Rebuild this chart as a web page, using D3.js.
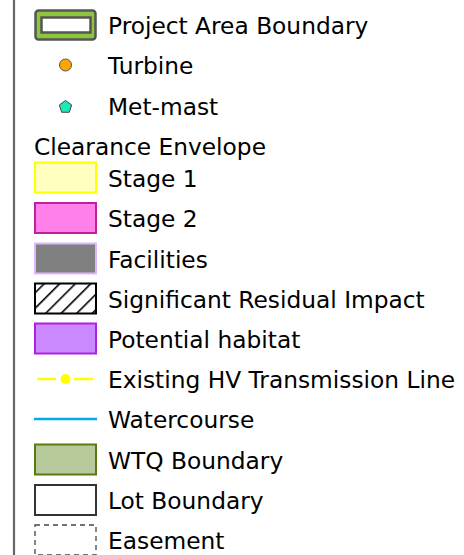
<!DOCTYPE html>
<html><head><meta charset="utf-8">
<script src="https://cdn.jsdelivr.net/npm/d3@7"></script>
<style>html,body{margin:0;padding:0;background:#fff;}</style>
</head><body>
<script>
const labels = ["Project Area Boundary","Turbine","Met-mast","Clearance Envelope","Stage 1","Stage 2","Facilities","Significant Residual Impact","Potential habitat","Existing HV Transmission Line","Watercourse","WTQ Boundary","Lot Boundary","Easement"];
const kinds  = ["project","circle","pentagon","heading","rect","rect","rect","hatch","rect","hvline","line","rect","rect","dashed"];
const fills  = ["#8cc63f","#ffa500","#1de9b6",null,"#ffffc0","#ff80e8","#808080","#ffffff","#cc88ff","#ffff00","#00aaee","#b5c99a","#ffffff","none"];
const strokes= ["#555555","#555555","#444444",null,"#ffff00","#c0209a","#e0b4ff","#000000","#b020e0","#ffff00","#00aaee","#5a7a10","#333333","#444444"];
const centers= [25,65,106,146,177.5,218,258.5,298.5,338.5,379,419,459.5,500,540];

const W=464,H=555;
const svg=d3.select("body").append("svg").attr("width",W).attr("height",H);
const defs=svg.append("defs");
const pat=defs.append("pattern").attr("id","hatch").attr("patternUnits","userSpaceOnUse")
  .attr("width",11).attr("height",11).attr("patternTransform","rotate(45)");
pat.append("rect").attr("width",11).attr("height",11).attr("fill","#fff");
pat.append("line").attr("x1",0).attr("y1",0).attr("x2",0).attr("y2",11).attr("stroke","#000").attr("stroke-width",3.2);

svg.append("line").attr("x1",14).attr("x2",14).attr("y1",0).attr("y2",H).attr("stroke","#666").attr("stroke-width",2.2);

const x0=34,x1=97,sw=x1-x0;
const rows=d3.range(labels.length);
const g=svg.selectAll("g.row").data(rows).join("g").attr("class","row");
g.each(function(i){
  const s=d3.select(this), cy=centers[i], k=kinds[i];
  if(k==="project"){
    s.append("rect").attr("x",x0+1.5).attr("y",cy-14.5).attr("width",sw-3).attr("height",29).attr("rx",3)
      .attr("fill",fills[i]).attr("stroke",strokes[i]).attr("stroke-width",2.5);
    s.append("rect").attr("x",41.5).attr("y",cy-7.5).attr("width",49).attr("height",15)
      .attr("fill","#fff").attr("stroke",strokes[i]).attr("stroke-width",2.5);
  } else if(k==="circle"){
    s.append("circle").attr("cx",65.5).attr("cy",cy).attr("r",6).attr("fill",fills[i]).attr("stroke",strokes[i]).attr("stroke-width",1);
  } else if(k==="pentagon"){
    const r=6.5;
    const pts=d3.range(5).map(j=>{const a=-Math.PI/2+j*2*Math.PI/5;return [65.5+r*Math.cos(a),cy+1+r*Math.sin(a)];});
    s.append("polygon").attr("points",pts.map(p=>p.join(",")).join(" ")).attr("fill",fills[i]).attr("stroke",strokes[i]).attr("stroke-width",1);
  } else if(k==="rect"||k==="hatch"){
    s.append("rect").attr("x",x0+1).attr("y",cy-15).attr("width",sw-2).attr("height",30)
      .attr("fill",k==="hatch"?"url(#hatch)":fills[i]).attr("stroke",strokes[i]).attr("stroke-width",2);
  } else if(k==="dashed"){
    s.append("rect").attr("x",x0+1).attr("y",cy-15).attr("width",sw-2).attr("height",30)
      .attr("fill","none").attr("stroke",strokes[i]).attr("stroke-width",1.3).attr("stroke-dasharray","5,4");
  } else if(k==="hvline"){
    s.append("line").attr("x1",37).attr("x2",56).attr("y1",cy).attr("y2",cy).attr("stroke",fills[i]).attr("stroke-width",2.5);
    s.append("line").attr("x1",74).attr("x2",93).attr("y1",cy).attr("y2",cy).attr("stroke",fills[i]).attr("stroke-width",2.5);
    s.append("circle").attr("cx",65.5).attr("cy",cy).attr("r",5).attr("fill",fills[i]);
  } else if(k==="line"){
    s.append("line").attr("x1",x0).attr("x2",x1).attr("y1",cy).attr("y2",cy).attr("stroke",fills[i]).attr("stroke-width",2.5);
  }
  s.append("text").attr("x",k==="heading"?34:108).attr("y",cy+9)
    .attr("font-family","DejaVu Sans, sans-serif").attr("font-size",23.3).attr("fill","#000")
    .text(labels[i]);
});
</script>
</body></html>
